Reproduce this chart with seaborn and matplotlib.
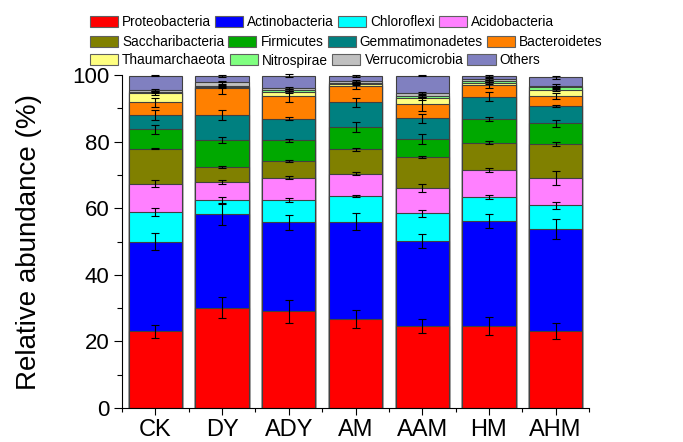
import numpy as np
import pandas as pd
import matplotlib
matplotlib.use("Agg")
import matplotlib.pyplot as plt
from matplotlib.patches import Patch
from matplotlib.ticker import MultipleLocator, FixedLocator
import seaborn as sns

groups = ["CK", "DY", "ADY", "AM", "AAM", "HM", "AHM"]

phyla = ["Proteobacteria", "Actinobacteria", "Chloroflexi", "Acidobacteria",
         "Saccharibacteria", "Firmicutes", "Gemmatimonadetes", "Bacteroidetes",
         "Thaumarchaeota", "Nitrospirae", "Verrucomicrobia", "Others"]

proteobacteria   = [23.0, 30.1, 29.0, 26.7, 24.6, 24.6, 23.1]
actinobacteria   = [27.0, 28.1, 26.8, 29.3, 25.6, 31.5, 30.7]
chloroflexi      = [8.8, 4.3, 6.7, 7.7, 8.3, 7.4, 7.1]
acidobacteria    = [8.6, 5.5, 6.7, 6.7, 7.5, 8.0, 8.1]
saccharibacteria = [10.5, 4.5, 5.0, 7.3, 9.5, 8.2, 10.2]
firmicutes       = [5.8, 8.0, 6.2, 6.8, 5.3, 7.1, 6.3]
gemmatimonadetes = [4.3, 7.5, 6.5, 7.3, 6.2, 6.7, 5.2]
bacteroidetes    = [3.8, 8.0, 6.7, 4.9, 4.2, 3.5, 3.0]
thaumarchaeota   = [2.7, 0.3, 1.3, 0.5, 1.8, 0.7, 1.8]
nitrospirae      = [0.5, 0.4, 0.7, 0.4, 0.7, 0.5, 0.8]
verrucomicrobia  = [0.5, 1.1, 0.5, 0.6, 0.8, 0.5, 0.5]
others           = [4.3, 1.9, 3.7, 1.5, 5.3, 1.0, 2.5]

proteobacteria_sd   = [2.0, 3.1, 3.35, 2.75, 2.05, 2.8, 2.4]
actinobacteria_sd   = [2.6, 3.15, 2.25, 2.6, 2.05, 2.1, 3.0]
chloroflexi_sd      = [1.2, 0.8, 0.5, 0.4, 1.1, 0.6, 1.1]
acidobacteria_sd    = [1.1, 0.6, 0.4, 0.4, 1.15, 0.6, 2.1]
saccharibacteria_sd = [0.2, 0.3, 0.4, 0.4, 0.3, 0.4, 0.6]
firmicutes_sd       = [1.35, 0.85, 0.4, 1.5, 1.4, 0.6, 1.1]
gemmatimonadetes_sd = [1.4, 1.5, 0.4, 1.3, 1.4, 1.3, 0.2]
bacteroidetes_sd    = [1.4, 1.75, 1.6, 0.8, 2.0, 1.0, 1.0]
thaumarchaeota_sd   = [0.5, 0.3, 0.3, 0.3, 0.5, 0.3, 0.4]
nitrospirae_sd      = [0.3, 0.2, 0.3, 0.3, 0.3, 0.2, 0.3]
verrucomicrobia_sd  = [0.3, 0.5, 0.3, 0.4, 0.3, 0.3, 0.4]
others_sd           = [0.2, 0.2, 0.5, 0.3, 0.2, 0.2, 0.5]

values = [proteobacteria, actinobacteria, chloroflexi, acidobacteria,
          saccharibacteria, firmicutes, gemmatimonadetes, bacteroidetes,
          thaumarchaeota, nitrospirae, verrucomicrobia, others]
sds = [proteobacteria_sd, actinobacteria_sd, chloroflexi_sd, acidobacteria_sd,
       saccharibacteria_sd, firmicutes_sd, gemmatimonadetes_sd, bacteroidetes_sd,
       thaumarchaeota_sd, nitrospirae_sd, verrucomicrobia_sd, others_sd]

colors = ["#FF0000", "#0000FF", "#00FFFF", "#FF80FF", "#808000", "#00A800",
          "#008080", "#FF8000", "#FFFF80", "#80FF80", "#C0C0C0", "#8080C0"]

sns.set_theme(style="ticks")
plt.rcParams["font.family"] = ["Liberation Sans", "DejaVu Sans"]
plt.rcParams["text.color"] = "black"
plt.rcParams["axes.labelcolor"] = "black"
plt.rcParams["xtick.color"] = "black"
plt.rcParams["ytick.color"] = "black"

fig = plt.figure(figsize=(6.83, 4.42), dpi=100)
ax = fig.add_axes([122 / 683, 34 / 442, 467 / 683, 333 / 442])

vals = np.array(values)
cum = np.cumsum(vals, axis=0)
edge = "#404040"

# draw cumulative bars from tallest to shortest so lower segments overlay
for i in range(len(phyla) - 1, -1, -1):
    df = pd.DataFrame({"group": groups, "top": cum[i]})
    sns.barplot(data=df, x="group", y="top", order=groups, color=colors[i],
                saturation=1, width=0.8, errorbar=None, edgecolor=edge,
                linewidth=0.8, ax=ax)

xpos = np.arange(len(groups))
for i in range(len(phyla)):
    ax.errorbar(xpos, cum[i], yerr=sds[i], fmt="none", ecolor="black",
                elinewidth=0.8, capsize=2.6, capthick=0.8, clip_on=False,
                zorder=5)

ax.set_xlim(-0.5, 6.5)
ax.set_ylim(0, 100)
ax.set_xlabel("")
ax.set_ylabel("Relative abundance (%)", fontsize=20, color="black")
ax.yaxis.set_label_coords(-0.172, 0.5)
ax.yaxis.set_major_locator(MultipleLocator(20))
ax.yaxis.set_minor_locator(MultipleLocator(10))
ax.xaxis.set_minor_locator(FixedLocator(np.arange(-0.5, 7, 1.0)))
ax.tick_params(axis="y", which="major", length=6, width=0.8, labelsize=16,
               color="black", labelcolor="black", pad=3)
ax.tick_params(axis="y", which="minor", length=3.5, width=0.8, color="black")
ax.tick_params(axis="x", which="major", length=5, width=0.8, labelsize=17,
               color="black", labelcolor="black", pad=3)
ax.tick_params(axis="x", which="minor", length=3, width=0.8, color="black")
for s in ["top", "right"]:
    ax.spines[s].set_visible(False)
for s in ["left", "bottom"]:
    ax.spines[s].set_color("black")
    ax.spines[s].set_linewidth(0.8)

rows = [[0, 1, 2, 3], [4, 5, 6, 7], [8, 9, 10, 11]]
row_y = [1 - 22 / 442, 1 - 42 / 442, 1 - 60.5 / 442]
for r, yy in zip(rows, row_y):
    handles = [Patch(facecolor=colors[k], edgecolor="#606060", linewidth=0.8,
                     label=phyla[k]) for k in r]
    leg = fig.legend(handles=handles, loc="center left",
                     bbox_to_anchor=(90 / 683, yy), ncol=4, frameon=False,
                     fontsize=9.8, handlelength=2.06, handleheight=0.88,
                     handletextpad=0.3, columnspacing=0.3, borderpad=0,
                     borderaxespad=0)
    for t in leg.get_texts():
        t.set_color("black")

fig.savefig("out.png", dpi=100)
